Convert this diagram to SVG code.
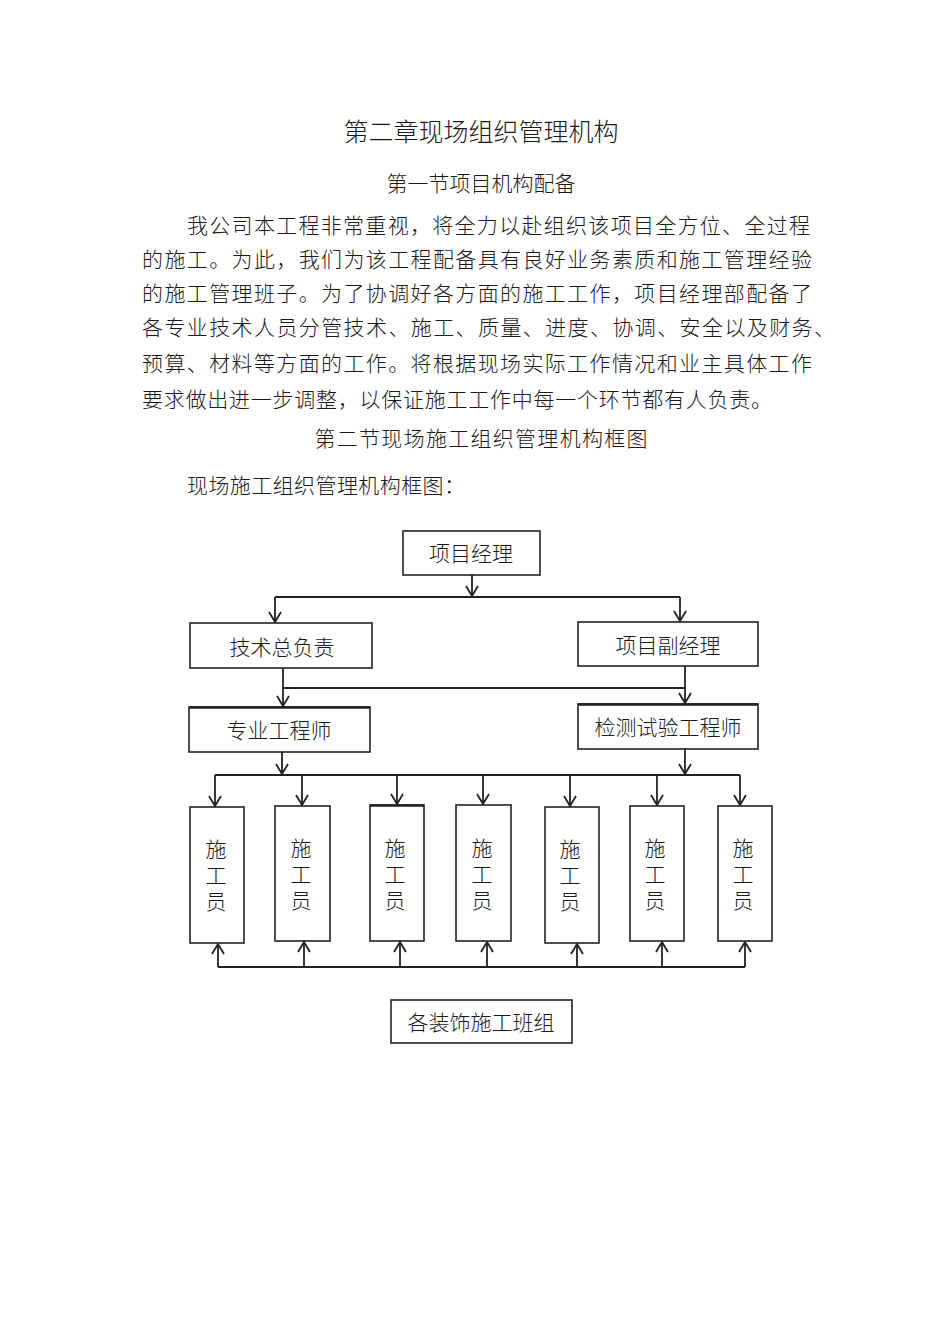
<svg xmlns="http://www.w3.org/2000/svg" width="950" height="1344" viewBox="0 0 950 1344">
<style>
text{font-family:"Noto Sans CJK SC","Noto Sans",sans-serif;fill:#1a1a1a;font-weight:300}
.t{font-size:21px}
.c{text-anchor:middle}
.box{fill:#fff;stroke:#222;stroke-width:1.6}
.ln{fill:none;stroke:#222;stroke-width:1.8}
.lbl{font-size:21px;text-anchor:middle;dominant-baseline:central}
.vt{font-size:21px;text-anchor:middle;writing-mode:vertical-rl;letter-spacing:5px}
</style>
<defs>
<marker id="ah" viewBox="-12 -8 14 16" refX="0" refY="0" markerWidth="14" markerHeight="16" markerUnits="userSpaceOnUse" orient="auto">
<path d="M-10,-6 L0,0 L-10,6" fill="none" stroke="#222" stroke-width="1.8"/>
</marker>
</defs>
<rect width="950" height="1344" fill="#fff"/>
<g id="header">
<text x="481" y="141" class="c" style="font-size:25px">第二章现场组织管理机构</text>
<text x="481" y="191" class="c t">第一节项目机构配备</text>
<text x="187" y="233" class="t" textLength="623" lengthAdjust="spacing">我公司本工程非常重视，将全力以赴组织该项目全方位、全过程</text>
<text x="142" y="267" class="t" textLength="670" lengthAdjust="spacing">的施工。为此，我们为该工程配备具有良好业务素质和施工管理经验</text>
<text x="142" y="301" class="t" textLength="670" lengthAdjust="spacing">的施工管理班子。为了协调好各方面的施工工作，项目经理部配备了</text>
<text x="142" y="335" class="t" textLength="693" lengthAdjust="spacing">各专业技术人员分管技术、施工、质量、进度、协调、安全以及财务、</text>
<text x="142" y="371" class="t" textLength="670" lengthAdjust="spacing">预算、材料等方面的工作。将根据现场实际工作情况和业主具体工作</text>
<text x="142" y="407" class="t" textLength="630" lengthAdjust="spacing">要求做出进一步调整，以保证施工工作中每一个环节都有人负责。</text>
<text x="481" y="446" class="c t" textLength="333" lengthAdjust="spacing">第二节现场施工组织管理机构框图</text>
<text x="187" y="493" class="t" textLength="278" lengthAdjust="spacing">现场施工组织管理机构框图：</text>
</g>
<g id="connectors">
<path class="ln" d="M472,575 V596" marker-end="url(#ah)"/>
<path class="ln" d="M275,597 H680"/>
<path class="ln" d="M275,597 V622" marker-end="url(#ah)"/>
<path class="ln" d="M680,597 V621" marker-end="url(#ah)"/>
<path class="ln" d="M283,668 V706" marker-end="url(#ah)"/>
<path class="ln" d="M283,688 H685"/>
<path class="ln" d="M685,666 V703" marker-end="url(#ah)"/>
<path class="ln" d="M282,752 V774" marker-end="url(#ah)"/>
<path class="ln" d="M685,749 V774" marker-end="url(#ah)"/>
<path class="ln" d="M215,775 H740"/>
<path class="ln" d="M215,775 V806" marker-end="url(#ah)"/>
<path class="ln" d="M302,775 V805" marker-end="url(#ah)"/>
<path class="ln" d="M397,775 V804" marker-end="url(#ah)"/>
<path class="ln" d="M483,775 V804" marker-end="url(#ah)"/>
<path class="ln" d="M570,775 V806" marker-end="url(#ah)"/>
<path class="ln" d="M657,775 V805" marker-end="url(#ah)"/>
<path class="ln" d="M740,775 V805" marker-end="url(#ah)"/>
<path class="ln" d="M218,967 H745"/>
<path class="ln" d="M218,967 V944" marker-end="url(#ah)"/>
<path class="ln" d="M304,967 V942" marker-end="url(#ah)"/>
<path class="ln" d="M400,967 V942" marker-end="url(#ah)"/>
<path class="ln" d="M487,967 V942" marker-end="url(#ah)"/>
<path class="ln" d="M577,967 V944" marker-end="url(#ah)"/>
<path class="ln" d="M662,967 V942" marker-end="url(#ah)"/>
<path class="ln" d="M745,967 V942" marker-end="url(#ah)"/>
</g>
<g id="n-pm"><rect class="box" x="403" y="531" width="137" height="44"/><text class="lbl" x="471" y="552">项目经理</text></g>
<g id="n-tech"><rect class="box" x="190" y="623" width="182" height="45"/><text class="lbl" x="282" y="646">技术总负责</text></g>
<g id="n-dpm"><rect class="box" x="578" y="622" width="180" height="44"/><text class="lbl" x="668" y="644">项目副经理</text></g>
<g id="n-eng"><rect class="box" x="189" y="707" width="181" height="45"/><line x1="189" y1="707.5" x2="370" y2="707.5" stroke="#222" stroke-width="2.6"/><text class="lbl" x="279" y="729">专业工程师</text></g>
<g id="n-test"><rect class="box" x="578" y="704" width="180" height="45"/><line x1="578" y1="704.5" x2="758" y2="704.5" stroke="#222" stroke-width="2.6"/><text class="lbl" x="668" y="726">检测试验工程师</text></g>
<g id="n-w1"><rect class="box" x="190" y="807" width="54" height="136"/><text class="vt" x="216" y="878">施工员</text></g>
<g id="n-w2"><rect class="box" x="275" y="806" width="55" height="135"/><text class="vt" x="301" y="877">施工员</text></g>
<g id="n-w3"><rect class="box" x="370" y="805" width="54" height="136"/><line x1="370" y1="805.5" x2="424" y2="805.5" stroke="#222" stroke-width="2.6"/><text class="vt" x="395" y="877">施工员</text></g>
<g id="n-w4"><rect class="box" x="456" y="805" width="55" height="136"/><text class="vt" x="482" y="877">施工员</text></g>
<g id="n-w5"><rect class="box" x="545" y="807" width="54" height="136"/><text class="vt" x="570" y="878">施工员</text></g>
<g id="n-w6"><rect class="box" x="630" y="806" width="54" height="135"/><text class="vt" x="655" y="877">施工员</text></g>
<g id="n-w7"><rect class="box" x="718" y="806" width="54" height="135"/><text class="vt" x="743" y="877">施工员</text></g>
<g id="n-teams"><rect class="box" x="391" y="1000" width="181" height="43"/><text class="lbl" x="481" y="1021">各装饰施工班组</text></g>
</svg>
